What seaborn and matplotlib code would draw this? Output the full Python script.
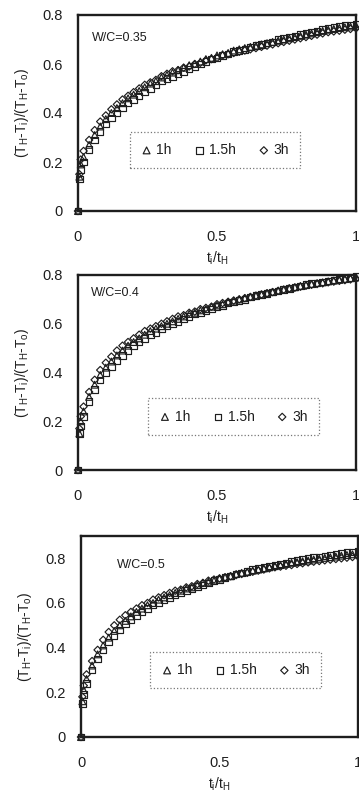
import matplotlib
matplotlib.use("Agg")
import matplotlib.pyplot as plt
import seaborn as sns
import pandas as pd

sns.set_theme(style="white")
plt.rcParams['font.family'] = ['Liberation Sans', 'DejaVu Sans']
plt.rcParams['mathtext.fontset'] = 'custom'
plt.rcParams['mathtext.rm'] = 'Liberation Sans'

# ---------------- data ----------------
x_ratio = [0, 0.005, 0.01, 0.02, 0.04, 0.06, 0.08, 0.10, 0.12, 0.14, 0.16, 0.18, 0.20,
           0.22, 0.24, 0.26, 0.28, 0.30, 0.32, 0.34, 0.36, 0.38, 0.40, 0.42, 0.44,
           0.46, 0.48, 0.50, 0.52, 0.54, 0.56, 0.58, 0.60, 0.62, 0.64, 0.66, 0.68,
           0.70, 0.72, 0.74, 0.76, 0.78, 0.80, 0.82, 0.84, 0.86, 0.88, 0.90, 0.92,
           0.94, 0.96, 0.98, 1.00]

series_labels = ['1h', '1.5h', '3h']
panel_titles = ['W/C=0.35', 'W/C=0.4', 'W/C=0.5']

wc035_1h = [0, 0.14, 0.19, 0.22, 0.27, 0.31, 0.345, 0.375, 0.40, 0.42, 0.44, 0.46, 0.475,
            0.49, 0.505, 0.52, 0.53, 0.545, 0.555, 0.565, 0.575, 0.585, 0.595, 0.60, 0.61,
            0.62, 0.625, 0.635, 0.64, 0.645, 0.655, 0.66, 0.665, 0.67, 0.675, 0.68, 0.685,
            0.69, 0.695, 0.70, 0.705, 0.71, 0.715, 0.72, 0.725, 0.73, 0.735, 0.74, 0.743,
            0.747, 0.75, 0.753, 0.756]
wc035_15h = [0, 0.13, 0.17, 0.20, 0.25, 0.29, 0.325, 0.355, 0.38, 0.40, 0.42, 0.44, 0.455,
             0.47, 0.485, 0.50, 0.515, 0.53, 0.54, 0.55, 0.56, 0.57, 0.58, 0.59, 0.60,
             0.61, 0.62, 0.625, 0.635, 0.64, 0.65, 0.655, 0.66, 0.67, 0.675, 0.68, 0.685,
             0.69, 0.70, 0.705, 0.71, 0.715, 0.72, 0.725, 0.73, 0.735, 0.74, 0.745, 0.75,
             0.753, 0.757, 0.76, 0.763]
wc035_3h = [0, 0.15, 0.21, 0.245, 0.29, 0.33, 0.365, 0.39, 0.415, 0.435, 0.455, 0.47, 0.485,
            0.50, 0.515, 0.525, 0.535, 0.55, 0.56, 0.57, 0.575, 0.585, 0.59, 0.60, 0.605,
            0.615, 0.62, 0.625, 0.635, 0.64, 0.645, 0.65, 0.655, 0.66, 0.665, 0.67, 0.675,
            0.68, 0.685, 0.69, 0.695, 0.70, 0.705, 0.71, 0.715, 0.72, 0.725, 0.73, 0.733,
            0.736, 0.74, 0.743, 0.746]

wc04_1h = [0, 0.15, 0.20, 0.24, 0.30, 0.35, 0.39, 0.42, 0.445, 0.47, 0.49, 0.51, 0.525,
           0.54, 0.555, 0.57, 0.58, 0.59, 0.60, 0.61, 0.62, 0.63, 0.64, 0.645, 0.655,
           0.66, 0.67, 0.675, 0.68, 0.69, 0.695, 0.70, 0.705, 0.71, 0.715, 0.72, 0.725,
           0.73, 0.735, 0.74, 0.745, 0.75, 0.755, 0.76, 0.763, 0.767, 0.77, 0.774, 0.777,
           0.78, 0.784, 0.787, 0.79]
wc04_15h = [0, 0.15, 0.18, 0.22, 0.28, 0.33, 0.37, 0.40, 0.425, 0.45, 0.47, 0.49, 0.51,
            0.525, 0.54, 0.555, 0.565, 0.58, 0.59, 0.60, 0.61, 0.62, 0.63, 0.64, 0.645,
            0.655, 0.66, 0.67, 0.675, 0.685, 0.69, 0.695, 0.70, 0.71, 0.715, 0.72, 0.725,
            0.73, 0.735, 0.74, 0.745, 0.75, 0.755, 0.76, 0.765, 0.768, 0.772, 0.776, 0.78,
            0.783, 0.786, 0.79, 0.793]
wc04_3h = [0, 0.17, 0.22, 0.26, 0.32, 0.37, 0.41, 0.44, 0.465, 0.49, 0.51, 0.525, 0.54,
           0.555, 0.57, 0.58, 0.59, 0.60, 0.61, 0.62, 0.63, 0.635, 0.645, 0.65, 0.66,
           0.665, 0.67, 0.68, 0.685, 0.69, 0.695, 0.70, 0.705, 0.71, 0.715, 0.72, 0.725,
           0.73, 0.735, 0.74, 0.745, 0.748, 0.752, 0.756, 0.76, 0.763, 0.766, 0.77, 0.773,
           0.776, 0.779, 0.782, 0.785]

wc05_1h = [0, 0.16, 0.21, 0.26, 0.32, 0.37, 0.41, 0.445, 0.475, 0.50, 0.52, 0.54, 0.56,
           0.575, 0.59, 0.60, 0.615, 0.625, 0.635, 0.645, 0.655, 0.665, 0.67, 0.68, 0.69,
           0.695, 0.70, 0.71, 0.715, 0.72, 0.73, 0.735, 0.74, 0.745, 0.75, 0.755, 0.76,
           0.765, 0.77, 0.775, 0.78, 0.783, 0.787, 0.79, 0.795, 0.798, 0.802, 0.805, 0.808,
           0.812, 0.815, 0.818, 0.82]
wc05_15h = [0, 0.15, 0.19, 0.24, 0.30, 0.35, 0.39, 0.425, 0.455, 0.48, 0.505, 0.525, 0.545,
            0.56, 0.575, 0.59, 0.60, 0.615, 0.625, 0.635, 0.645, 0.655, 0.665, 0.675, 0.68,
            0.69, 0.70, 0.705, 0.715, 0.72, 0.73, 0.735, 0.74, 0.75, 0.755, 0.76, 0.765,
            0.77, 0.775, 0.78, 0.785, 0.79, 0.795, 0.80, 0.803, 0.807, 0.81, 0.815, 0.818,
            0.822, 0.825, 0.828, 0.832]
wc05_3h = [0, 0.18, 0.23, 0.28, 0.34, 0.39, 0.435, 0.47, 0.50, 0.525, 0.545, 0.56, 0.575,
           0.59, 0.60, 0.615, 0.625, 0.635, 0.645, 0.655, 0.66, 0.67, 0.675, 0.685, 0.69,
           0.70, 0.705, 0.71, 0.715, 0.72, 0.725, 0.73, 0.735, 0.74, 0.745, 0.75, 0.755,
           0.76, 0.763, 0.767, 0.77, 0.775, 0.778, 0.782, 0.785, 0.788, 0.791, 0.794, 0.797,
           0.80, 0.803, 0.806, 0.809]

panels = [
    [wc035_1h, wc035_15h, wc035_3h],
    [wc04_1h, wc04_15h, wc04_3h],
    [wc05_1h, wc05_15h, wc05_3h],
]

x_ticks = [0, 0.5, 1]
x_tick_labels = ['0', '0.5', '1']
y_ticks = [0, 0.2, 0.4, 0.6, 0.8]
y_tick_labels = ['0', '0.2', '0.4', '0.6', '0.8']
y_tops = [0.8, 0.8, 0.9]

# ---------------- layout ----------------
W, H = 359, 792
fig = plt.figure(figsize=(W / 100, H / 100), dpi=100)

# (left, top, right, bottom) in pixels
boxes = [(78, 15, 356, 211), (78, 275, 356, 470), (81, 536, 358, 737)]
title_pos = [(0.05, 0.705), (0.045, 0.725), (0.13, 0.77)]
legend_pos = [(0.493, 0.311), (0.559, 0.274), (0.558, 0.333)]
markers = ['^', 's', 'D']
msizes = [24, 22, 14]
ink = '#1e1e1e'

for i, (l, t, r, b) in enumerate(boxes):
    ax = fig.add_axes([l / W, (H - b) / H, (r - l) / W, (b - t) / H])
    for j, lab in enumerate(series_labels):
        yv = panels[i][j]
        n = min(len(x_ratio), len(yv))
        df = pd.DataFrame({'x': x_ratio[:n], 'y': yv[:n]})
        sns.scatterplot(data=df, x='x', y='y', ax=ax, marker=markers[j], s=msizes[j],
                        facecolors='none', edgecolor=ink, linewidth=0.85,
                        label=lab, clip_on=False, zorder=3)
    ax.set_xlim(0, 1)
    ax.set_ylim(0, y_tops[i])
    ax.set_xticks(x_ticks)
    ax.set_xticklabels(x_tick_labels)
    ax.set_yticks(y_ticks)
    ax.set_yticklabels(y_tick_labels)
    ax.tick_params(axis='x', direction='in', length=3, pad=14, labelsize=10.5,
                   colors=ink)
    ax.tick_params(axis='y', direction='out', length=2, pad=9, labelsize=10.5,
                   colors=ink)
    for sp in ax.spines.values():
        sp.set_color(ink)
        sp.set_linewidth(1.7)
    ax.set_xlabel(r't$_\mathrm{i}$/t$_\mathrm{H}$', fontsize=10, color=ink,
                  labelpad=4)
    ax.set_ylabel(r'(T$_\mathrm{H}$-T$_\mathrm{i}$)/(T$_\mathrm{H}$-T$_\mathrm{o}$)',
                  fontsize=10, color=ink, labelpad=8)
    ax.text(title_pos[i][0], title_pos[i][1], panel_titles[i], transform=ax.transData,
            fontsize=9, color=ink, ha='left', va='center')
    leg = ax.legend(loc='center', bbox_to_anchor=legend_pos[i], ncol=3, fontsize=10,
                    frameon=True, fancybox=False, handletextpad=0.3, columnspacing=1.6,
                    handlelength=0.8, borderpad=0.8, borderaxespad=0)
    for txt in leg.get_texts():
        txt.set_color(ink)
    fr = leg.get_frame()
    fr.set_linestyle(':')
    fr.set_edgecolor('#555555')
    fr.set_linewidth(0.9)

fig.savefig('out.png', dpi=100)
